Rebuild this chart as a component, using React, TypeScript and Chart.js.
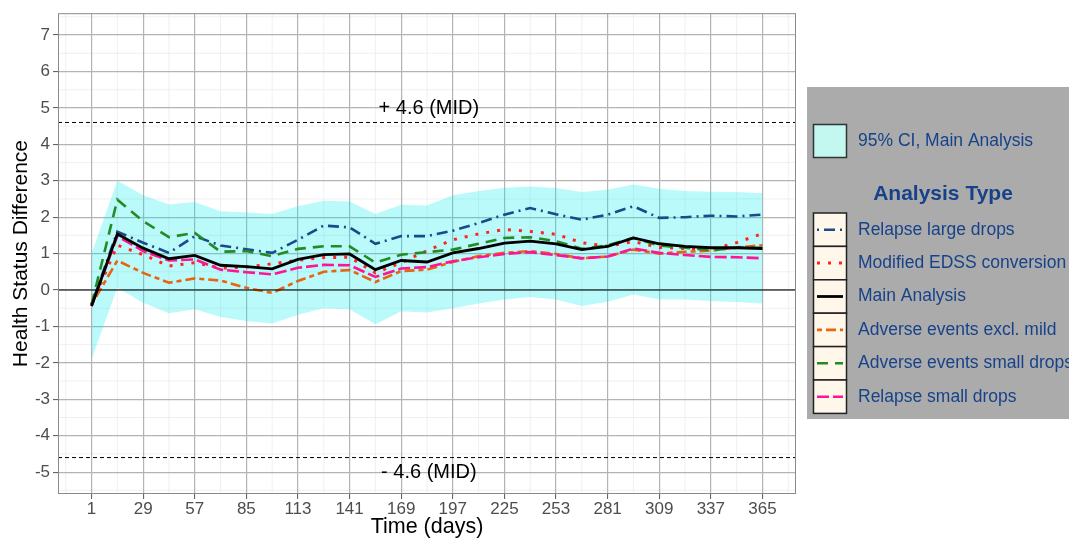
import React, { useEffect, useRef } from 'react';
import { Chart, registerables } from 'chart.js';
Chart.register(...registerables);

const FONT = '"Liberation Sans", Arial, sans-serif';

const days = [1, 15, 29, 43, 57, 71, 85, 99, 113, 127, 141, 155, 169, 183, 197, 211, 225, 239, 253, 267, 281, 295, 309, 323, 337, 351, 365];

const relapseLarge = [-0.4, 1.6, 1.3, 1.02, 1.48, 1.22, 1.12, 1.02, 1.38, 1.77, 1.72, 1.27, 1.48, 1.48, 1.63, 1.84, 2.07, 2.25, 2.08, 1.93, 2.07, 2.3, 1.98, 2.0, 2.04, 2.02, 2.07];
const modifiedEDSS = [-0.4, 1.23, 0.97, 0.66, 0.75, 0.6, 0.63, 0.72, 0.82, 0.89, 0.9, 0.47, 0.75, 1.08, 1.38, 1.54, 1.66, 1.61, 1.53, 1.3, 1.2, 1.33, 1.17, 1.14, 1.11, 1.3, 1.55];
const mainAnalysis = [-0.44, 1.54, 1.15, 0.86, 0.95, 0.68, 0.64, 0.58, 0.84, 0.97, 0.99, 0.56, 0.81, 0.77, 1.02, 1.14, 1.29, 1.34, 1.27, 1.11, 1.2, 1.43, 1.27, 1.2, 1.16, 1.16, 1.14];
const aeExclMild = [-0.4, 0.81, 0.47, 0.2, 0.32, 0.26, 0.06, -0.08, 0.25, 0.5, 0.55, 0.22, 0.52, 0.56, 0.77, 0.93, 1.02, 1.07, 0.99, 0.87, 0.92, 1.11, 1.0, 1.05, 1.08, 1.17, 1.23];
const aeSmallDrops = [-0.4, 2.48, 1.89, 1.45, 1.57, 1.05, 1.07, 0.93, 1.13, 1.2, 1.2, 0.75, 0.97, 1.04, 1.11, 1.27, 1.43, 1.45, 1.34, 1.13, 1.23, 1.43, 1.22, 1.16, 1.09, 1.16, 1.16];
const relapseSmall = [-0.44, 1.48, 1.07, 0.81, 0.84, 0.56, 0.49, 0.43, 0.61, 0.69, 0.68, 0.36, 0.59, 0.63, 0.79, 0.9, 0.99, 1.04, 0.96, 0.87, 0.92, 1.14, 1.02, 0.96, 0.91, 0.9, 0.87];
const ciUpper = [1.0, 3.0, 2.6, 2.35, 2.42, 2.16, 2.13, 2.09, 2.3, 2.45, 2.43, 2.09, 2.34, 2.32, 2.6, 2.72, 2.81, 2.84, 2.8, 2.69, 2.75, 2.9, 2.78, 2.72, 2.7, 2.69, 2.66];
const ciLower = [-1.9, 0.06, -0.35, -0.64, -0.53, -0.74, -0.85, -0.92, -0.68, -0.5, -0.53, -0.94, -0.58, -0.62, -0.5, -0.37, -0.26, -0.19, -0.26, -0.44, -0.32, -0.12, -0.26, -0.26, -0.3, -0.33, -0.37];

const xTicks = [1, 29, 57, 85, 113, 141, 169, 197, 225, 253, 281, 309, 337, 365];
const xMinor = [-13, 15, 43, 71, 99, 127, 155, 183, 211, 239, 267, 295, 323, 351, 379];
const yTicks = [-5, -4, -3, -2, -1, 0, 1, 2, 3, 4, 5, 6, 7];
const yMinor = [-5.5, -4.5, -3.5, -2.5, -1.5, -0.5, 0.5, 1.5, 2.5, 3.5, 4.5, 5.5, 6.5, 7.5];

const MID = 4.6;
const MID_LABEL_DAY = 184;

const seriesNames = ['Relapse large drops', 'Modified EDSS conversion', 'Main Analysis', 'Adverse events excl. mild', 'Adverse events small drops', 'Relapse small drops'];
const seriesData = [relapseLarge, modifiedEDSS, mainAnalysis, aeExclMild, aeSmallDrops, relapseSmall];
const seriesColors = ['#1a4a8a', '#ff2424', '#000000', '#e8640e', '#228b22', '#ff1493'];
const seriesDash = [[2, 5, 11, 5], [3, 8], [], [5, 4, 10, 4], [11, 7], [12, 4]];
const seriesWidth = [2.6, 3, 2.8, 2.6, 2.6, 2.6];

const LEGEND_TEXT = '#17428a';

const overlayPlugin = {
  id: 'overlay',
  beforeDraw(chart: any) {
    const { ctx, chartArea: a, scales } = chart;
    ctx.save();
    ctx.fillStyle = '#ffffff';
    ctx.fillRect(0, 0, chart.width, chart.height);
    ctx.strokeStyle = '#ececec';
    ctx.lineWidth = 0.8;
    xMinor.forEach((v) => {
      const px = scales.x.getPixelForValue(v);
      if (px < a.left || px > a.right) return;
      ctx.beginPath(); ctx.moveTo(px, a.top); ctx.lineTo(px, a.bottom); ctx.stroke();
    });
    yMinor.forEach((v) => {
      const py = scales.y.getPixelForValue(v);
      if (py < a.top || py > a.bottom) return;
      ctx.beginPath(); ctx.moveTo(a.left, py); ctx.lineTo(a.right, py); ctx.stroke();
    });
    ctx.restore();
  },
  afterDatasetsDraw(chart: any) {
    const { ctx, chartArea: a, scales } = chart;
    ctx.save();
    const y0 = scales.y.getPixelForValue(0);
    ctx.strokeStyle = '#000';
    ctx.lineWidth = 1;
    ctx.beginPath(); ctx.moveTo(a.left, y0); ctx.lineTo(a.right, y0); ctx.stroke();
    ctx.setLineDash([4, 3]);
    [MID, -MID].forEach((v) => {
      const py = scales.y.getPixelForValue(v);
      ctx.beginPath(); ctx.moveTo(a.left, py); ctx.lineTo(a.right, py); ctx.stroke();
    });
    ctx.setLineDash([]);
    ctx.fillStyle = '#000';
    ctx.font = `20px ${FONT}`;
    ctx.textAlign = 'center';
    ctx.textBaseline = 'middle';
    const lx = scales.x.getPixelForValue(MID_LABEL_DAY);
    ctx.fillText('+ 4.6 (MID)', lx, scales.y.getPixelForValue(MID) - 14);
    ctx.fillText('- 4.6 (MID)', lx, scales.y.getPixelForValue(-MID) + 15);
    ctx.strokeStyle = '#8a8a8a';
    ctx.lineWidth = 1;
    ctx.strokeRect(a.left + 0.5, a.top + 0.5, a.right - a.left - 1, a.bottom - a.top - 1);
    ctx.restore();
  },
  afterDraw(chart: any) {
    const { ctx } = chart;
    ctx.save();
    ctx.fillStyle = '#ababab';
    ctx.fillRect(807, 87, 1069 - 807, 419 - 87);
    ctx.fillStyle = '#c3f8f1';
    ctx.fillRect(813.5, 124.5, 33, 33);
    ctx.strokeStyle = '#333';
    ctx.lineWidth = 1.5;
    ctx.strokeRect(813.5, 124.5, 33, 33);
    ctx.fillStyle = LEGEND_TEXT;
    ctx.font = `17.5px ${FONT}`;
    ctx.textAlign = 'left';
    ctx.textBaseline = 'middle';
    ctx.fillText('95% CI, Main Analysis', 858, 141.5);
    ctx.font = `bold 21px ${FONT}`;
    ctx.textAlign = 'center';
    ctx.fillText('Analysis Type', 943, 194);
    const rowH = 33.4;
    seriesNames.forEach((name, i) => {
      const top = 213 + i * rowH;
      ctx.fillStyle = '#fff8ea';
      ctx.fillRect(813.5, top, 33, rowH);
      ctx.strokeStyle = '#222';
      ctx.lineWidth = 1.5;
      ctx.setLineDash([]);
      ctx.strokeRect(813.5, top, 33, rowH);
      const cy = top + rowH / 2;
      ctx.strokeStyle = seriesColors[i];
      ctx.lineWidth = seriesWidth[i];
      ctx.lineCap = 'butt';
      ctx.setLineDash(seriesDash[i]);
      ctx.beginPath(); ctx.moveTo(817, cy); ctx.lineTo(843, cy); ctx.stroke();
      ctx.setLineDash([]);
      ctx.fillStyle = LEGEND_TEXT;
      ctx.font = `17.5px ${FONT}`;
      ctx.textAlign = 'left';
      ctx.fillText(name, 858, cy);
    });
    ctx.restore();
  },
};

export default function App() {
  const ref = useRef<HTMLCanvasElement>(null);
  useEffect(() => {
    document.body.style.margin = '0';
    const lineSets = seriesNames.map((name, i) => ({
      label: name,
      data: days.map((d, j) => ({ x: d, y: seriesData[i][j] })),
      borderColor: seriesColors[i],
      backgroundColor: seriesColors[i],
      borderWidth: seriesWidth[i],
      borderDash: seriesDash[i],
      borderCapStyle: 'butt',
      pointRadius: 0,
      tension: 0,
      fill: false,
    }));
    const ordered = [lineSets[2], lineSets[4], lineSets[5], lineSets[3], lineSets[1], lineSets[0]];
    const chart = new Chart(ref.current!, {
      type: 'line',
      data: {
        datasets: [
          ...ordered,
          {
            label: 'ciUpper',
            data: days.map((d, j) => ({ x: d, y: ciUpper[j] })),
            borderWidth: 0,
            borderColor: 'rgba(0,0,0,0)',
            backgroundColor: 'rgba(0,236,236,0.27)',
            pointRadius: 0,
            tension: 0,
            fill: '+1',
          },
          {
            label: 'ciLower',
            data: days.map((d, j) => ({ x: d, y: ciLower[j] })),
            borderWidth: 0,
            borderColor: 'rgba(0,0,0,0)',
            pointRadius: 0,
            tension: 0,
            fill: false,
          },
        ] as any,
      },
      options: {
        responsive: false,
        animation: false,
        devicePixelRatio: 1,
        layout: { padding: { left: 0, top: 13, right: 273, bottom: 0 } },
        plugins: {
          legend: { display: false },
          tooltip: { enabled: false },
        },
        scales: {
          x: {
            type: 'linear',
            min: -17.2,
            max: 383.2,
            afterBuildTicks: (s: any) => { s.ticks = xTicks.map((v) => ({ value: v })); },
            afterFit: (s: any) => { s.height = 45; },
            ticks: {
              autoSkip: false,
              maxRotation: 0,
              padding: 0,
              color: '#4d4d4d',
              font: { family: FONT, size: 17 },
              callback: (v: any) => String(v),
            },
            grid: { color: '#b3b3b3', lineWidth: 1.2, tickLength: 5, tickColor: '#555', tickWidth: 1 },
            border: { display: false },
            title: {
              display: true,
              text: 'Time (days)',
              color: '#000',
              font: { family: FONT, size: 21.5 },
              padding: { top: 0, bottom: -1 },
            },
          },
          y: {
            type: 'linear',
            min: -5.6,
            max: 7.6,
            afterBuildTicks: (s: any) => { s.ticks = yTicks.map((v) => ({ value: v })); },
            afterFit: (s: any) => { s.width = 58; },
            ticks: {
              padding: 3,
              color: '#4d4d4d',
              font: { family: FONT, size: 17 },
              callback: (v: any) => String(v),
            },
            grid: { color: '#b3b3b3', lineWidth: 1.2, tickLength: 5, tickColor: '#555', tickWidth: 1 },
            border: { display: false },
            title: {
              display: true,
              text: 'Health Status Difference',
              color: '#000',
              font: { family: FONT, size: 21 },
              padding: { top: 9, bottom: 0 },
            },
          },
        },
      },
      plugins: [overlayPlugin as any],
    });
    return () => chart.destroy();
  }, []);
  return (
    <div style={{ position: 'absolute', left: 0, top: 0, width: 1069, height: 539 }}>
      <canvas ref={ref} width={1069} height={539} style={{ display: 'block' }} />
    </div>
  );
}
